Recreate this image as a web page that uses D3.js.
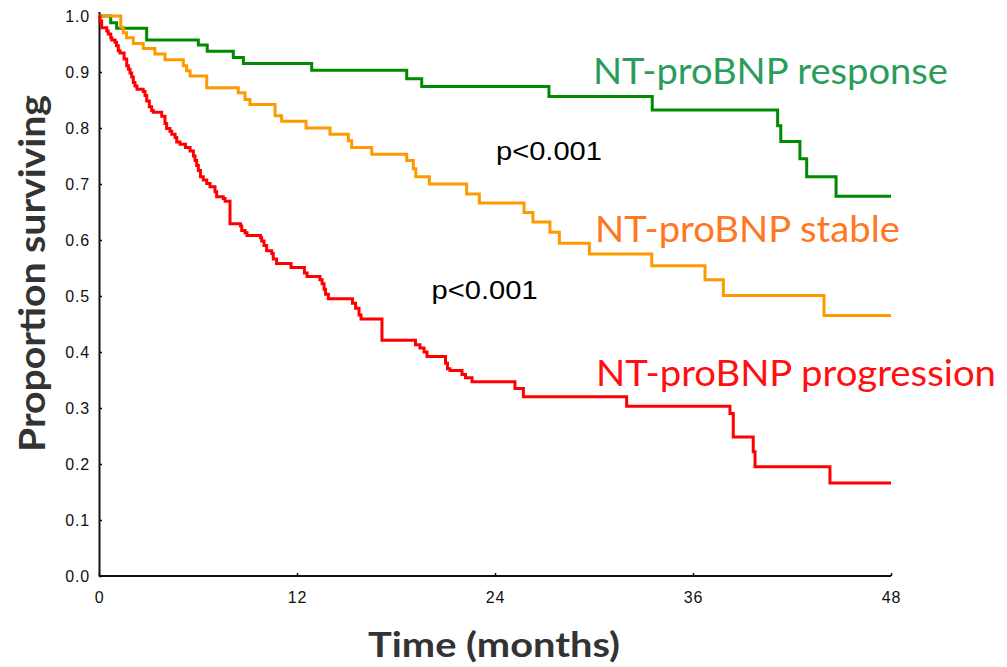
<!DOCTYPE html>
<html>
<head>
<meta charset="utf-8">
<script src="https://cdn.jsdelivr.net/npm/d3@7"></script>
<style>
  html, body { margin: 0; padding: 0; background: #fff; }
  svg { display: block; }
</style>
</head>
<body>
<svg id="chart" width="1007" height="667"></svg>
<script>
// ---- data (time in months, survival proportion after each drop) ----
const responseTimes = [0, 0.71, 1.07, 2.89, 6.02, 6.56, 8.14, 8.75, 12.89, 18.65, 19.56, 27.27, 33.53, 41.13, 41.32, 42.48, 42.89, 44.67];
const responseSurv  = [1.0, 0.988, 0.978, 0.957, 0.948, 0.937, 0.926, 0.915, 0.903, 0.888, 0.874, 0.856, 0.832, 0.804, 0.776, 0.745, 0.713, 0.678];

const stableTimes = [0, 1.32, 1.47, 1.67, 2.08, 2.68, 3.39, 4.0, 5.11, 5.31, 5.52, 6.53, 8.44, 8.85, 9.15, 10.67, 11.07, 12.55, 14.0, 15.11, 15.31, 16.53, 18.65, 19.05, 19.2, 20.02, 22.28, 23.05, 25.76, 26.3, 27.33, 27.9, 29.72, 33.5, 36.73, 37.84, 43.94];
const stableSurv  = [1.0, 0.980, 0.970, 0.961, 0.951, 0.942, 0.932, 0.922, 0.911, 0.902, 0.893, 0.872, 0.863, 0.851, 0.842, 0.822, 0.812, 0.800, 0.789, 0.777, 0.765, 0.753, 0.742, 0.727, 0.713, 0.700, 0.682, 0.666, 0.649, 0.632, 0.614, 0.594, 0.575, 0.554, 0.529, 0.501, 0.465];

const progressionTimes = [0, 0.06, 0.16, 0.47, 0.56, 0.71, 0.77, 0.97, 1.06, 1.17, 1.27, 1.52, 1.68, 1.78, 1.88, 1.98, 2.08, 2.18, 2.30, 2.68, 2.79, 2.89, 3.05, 3.19, 3.29, 3.80, 4.0, 4.10, 4.30, 4.41, 4.61, 4.71, 4.91, 5.24, 5.52, 5.72, 5.82, 5.92, 6.02, 6.15, 6.32, 6.53, 6.73, 7.03, 7.13, 7.53, 7.64, 7.94, 8.58, 8.65, 8.85, 8.97, 9.79, 9.86, 10.0, 10.16, 10.47, 10.56, 10.76, 11.64, 12.45, 12.61, 13.39, 13.52, 13.64, 13.73, 13.90, 15.36, 15.55, 15.76, 15.88, 17.15, 19.18, 19.45, 19.70, 19.88, 21.0, 21.12, 21.27, 22.0, 22.21, 22.61, 25.21, 25.72, 31.98, 38.24, 38.44, 39.65, 39.76, 44.3];
const progressionSurv  = [1.0, 0.991, 0.979, 0.973, 0.968, 0.961, 0.957, 0.953, 0.947, 0.938, 0.934, 0.923, 0.911, 0.905, 0.898, 0.891, 0.881, 0.875, 0.869, 0.865, 0.858, 0.848, 0.838, 0.831, 0.828, 0.821, 0.808, 0.799, 0.794, 0.789, 0.783, 0.775, 0.771, 0.765, 0.759, 0.750, 0.742, 0.733, 0.724, 0.713, 0.707, 0.701, 0.695, 0.686, 0.677, 0.674, 0.669, 0.629, 0.625, 0.617, 0.613, 0.608, 0.604, 0.598, 0.590, 0.581, 0.576, 0.566, 0.558, 0.551, 0.541, 0.535, 0.529, 0.522, 0.512, 0.503, 0.495, 0.487, 0.478, 0.466, 0.459, 0.421, 0.413, 0.407, 0.400, 0.392, 0.380, 0.370, 0.367, 0.360, 0.354, 0.347, 0.335, 0.320, 0.303, 0.290, 0.248, 0.222, 0.195, 0.166];

const endTime = 48;
const xTicks = [0, 12, 24, 36, 48];
const yTicks = [0, 0.1, 0.2, 0.3, 0.4, 0.5, 0.6, 0.7, 0.8, 0.9, 1.0];
const seriesNames = ["NT-proBNP response", "NT-proBNP stable", "NT-proBNP progression"];
const pLabels = ["p<0.001", "p<0.001"];

// ---- chart ----
const svg = d3.select("#chart");
const x = d3.scaleLinear().domain([0, 48]).range([99, 891]);
const y = d3.scaleLinear().domain([0, 1.008]).range([576, 11.5]);

function toPoints(times, surv) {
  const pts = times.map((t, i) => [t, surv[i]]);
  pts.push([endTime, surv[surv.length - 1]]);
  return pts;
}

const line = d3.line()
  .x(d => x(d[0]))
  .y(d => y(d[1]))
  .curve(d3.curveStepAfter);

const series = [
  { name: seriesNames[0], pts: toPoints(responseTimes, responseSurv), color: "#008a00", text: "#2a9d5c", lx: 29.94, ly: 0.879, len: 355 },
  { name: seriesNames[1], pts: toPoints(stableTimes, stableSurv), color: "#ff9900", text: "#ff7722", lx: 30.06, ly: 0.596, len: 305 },
  { name: seriesNames[2], pts: toPoints(progressionTimes, progressionSurv), color: "#ff0000", text: "#ff1010", lx: 30.12, ly: 0.340, len: 400 }
];

// axes
const yAxis = d3.axisLeft(y).tickValues(yTicks).tickFormat(d3.format(".1f"))
  .tickSizeInner(-3).tickSizeOuter(0).tickPadding(9);
const xAxis = d3.axisBottom(x).tickValues(xTicks).tickFormat(d3.format("d"))
  .tickSizeInner(-3).tickSizeOuter(0).tickPadding(16);

const gy = svg.append("g").attr("transform", "translate(99,0)").call(yAxis);
const gx = svg.append("g").attr("transform", "translate(0,576)").call(xAxis);
[gx, gy].forEach(g => {
  g.select(".domain").attr("stroke", "#111").attr("stroke-width", 2);
  g.selectAll(".tick line").attr("stroke", "#111").attr("stroke-width", 1.5);
  g.selectAll(".tick text")
    .attr("fill", "#111")
    .style("font-family", "'Liberation Sans', Arial, sans-serif")
    .style("font-size", "16px")
    .style("letter-spacing", "0.8px");
});
gx.select(".domain").attr("d", `M${x(0)},0H${x(48)}`);

// curves
svg.append("g").selectAll("path.curve")
  .data(series)
  .join("path")
  .attr("class", "curve")
  .attr("fill", "none")
  .attr("stroke", d => d.color)
  .attr("stroke-width", 3)
  .attr("stroke-linejoin", "miter")
  .attr("d", d => line(d.pts));

// series labels
svg.append("g").selectAll("text.lbl")
  .data(series)
  .join("text")
  .attr("class", "lbl")
  .attr("x", d => x(d.lx))
  .attr("y", d => y(d.ly))
  .attr("fill", d => d.text)
  .attr("textLength", d => d.len)
  .attr("lengthAdjust", "spacingAndGlyphs")
  .style("font-family", "Lato, 'Open Sans', sans-serif")
  .style("font-weight", "400")
  .style("font-size", "36px")
  .text(d => d.name);

// p-values
const pPos = [[24.06, 0.743], [20.16, 0.495]];
svg.append("g").selectAll("text.p")
  .data(pLabels)
  .join("text")
  .attr("class", "p")
  .attr("x", (d, i) => x(pPos[i][0]))
  .attr("y", (d, i) => y(pPos[i][1]))
  .attr("fill", "#000")
  .attr("textLength", 106)
  .attr("lengthAdjust", "spacingAndGlyphs")
  .style("font-family", "'Liberation Sans', Arial, sans-serif")
  .style("font-size", "26px")
  .text(d => d);

// axis titles
svg.append("text")
  .attr("x", 494)
  .attr("y", 657)
  .attr("text-anchor", "middle")
  .attr("fill", "#333")
  .attr("textLength", 252)
  .attr("lengthAdjust", "spacingAndGlyphs")
  .style("font-family", "Lato, 'Open Sans', sans-serif")
  .style("font-weight", "700")
  .style("font-size", "35px")
  .text("Time (months)");

svg.append("text")
  .attr("transform", "translate(45,273.5) rotate(-90)")
  .attr("text-anchor", "middle")
  .attr("fill", "#333")
  .attr("textLength", 357)
  .attr("lengthAdjust", "spacingAndGlyphs")
  .style("font-family", "Lato, 'Open Sans', sans-serif")
  .style("font-weight", "700")
  .style("font-size", "37px")
  .text("Proportion surviving");
</script>
</body>
</html>
